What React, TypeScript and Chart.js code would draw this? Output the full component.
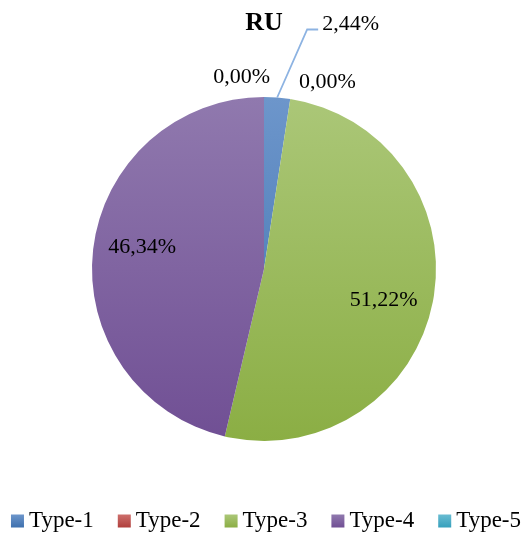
import React, { useEffect, useRef } from "react";
import { Chart, registerables } from "chart.js";

Chart.register(...registerables);

const TITLE = "RU";
const CATEGORIES = ["Type-1", "Type-2", "Type-3", "Type-4", "Type-5"];
const VALUES = [2.44, 0.0, 51.22, 46.34, 0.0];
const LABELS = ["2,44%", "0,00%", "51,22%", "46,34%", "0,00%"];
const TOP_COLORS = ["#6D96CB", "#CD6F6C", "#ABC778", "#9079AE", "#69BCD2"];
const BOTTOM_COLORS = ["#3E70AE", "#B03F3C", "#8BAE44", "#704F94", "#36A0BC"];

const FONT = "'Liberation Serif', 'Times New Roman', serif";
const LABEL_FONT = `22px ${FONT}`;
const LEGEND_FONT = `23px ${FONT}`;

const labelPlugin = {
  id: "sliceLabels",
  afterDatasetsDraw(chart: any) {
    const ctx = chart.ctx;
    const meta = chart.getDatasetMeta(0);
    ctx.save();
    ctx.font = LABEL_FONT;
    ctx.fillStyle = "#000";
    ctx.textBaseline = "middle";
    meta.data.forEach((arc: any, i: number) => {
      const { x, y, startAngle, endAngle, outerRadius } = arc.getProps(
        ["x", "y", "startAngle", "endAngle", "outerRadius"],
        true
      );
      const mid = (startAngle + endAngle) / 2;
      const v = VALUES[i];
      if (v > 10) {
        const r = outerRadius * 0.72;
        const a = mid + 0.065;
        ctx.textAlign = "center";
        ctx.fillText(LABELS[i], x + Math.cos(a) * r, y + Math.sin(a) * r);
      } else if (v > 0) {
        // leader line label
        const ex = x + Math.cos(mid) * outerRadius;
        const ey = y + Math.sin(mid) * outerRadius;
        const bx = ex + 30;
        const by = ey - 68;
        ctx.strokeStyle = "#8DB3E2";
        ctx.lineWidth = 1.8;
        ctx.beginPath();
        ctx.moveTo(ex, ey);
        ctx.lineTo(bx, by);
        ctx.lineTo(bx + 11, by);
        ctx.stroke();
        ctx.textAlign = "left";
        ctx.fillText(LABELS[i], bx + 15, by - 5);
      } else {
        const r = outerRadius * 1.1;
        const ax = x + Math.cos(mid) * r;
        const ay = y + Math.sin(mid) * r;
        const last = i === VALUES.length - 1;
        ctx.textAlign = last ? "right" : "left";
        ctx.fillText(LABELS[i], ax + 6, ay - (last ? 3 : 0));
      }
    });
    ctx.restore();
  },
  afterDraw(chart: any) {
    // legend row at the bottom
    const ctx = chart.ctx;
    ctx.save();
    ctx.font = LEGEND_FONT;
    ctx.textBaseline = "middle";
    ctx.textAlign = "left";
    const box = 13;
    const gap = 5;
    const spacing = 24;
    const widths = CATEGORIES.map((c) => ctx.measureText(c).width);
    const total =
      widths.reduce((a, w) => a + box + gap + w, 0) + spacing * (CATEGORIES.length - 1);
    const meta = chart.getDatasetMeta(0);
    const cx = meta.data[0] ? meta.data[0].x : chart.width / 2;
    let xPos = cx - total / 2 + 2;
    const cy = 521;
    CATEGORIES.forEach((c, i) => {
      const g = ctx.createLinearGradient(0, cy - box / 2, 0, cy + box / 2);
      g.addColorStop(0, TOP_COLORS[i]);
      g.addColorStop(1, BOTTOM_COLORS[i]);
      ctx.fillStyle = g;
      ctx.fillRect(xPos, cy - box / 2, box, box);
      ctx.fillStyle = "#000";
      ctx.fillText(c, xPos + box + gap, cy);
      xPos += box + gap + widths[i] + spacing;
    });
    ctx.restore();
  },
};

export default function App() {
  const ref = useRef<HTMLCanvasElement | null>(null);
  useEffect(() => {
    document.body.style.margin = "0";
    const canvas = ref.current;
    if (!canvas) return;
    const chart = new Chart(canvas, {
      type: "pie",
      data: {
        labels: CATEGORIES,
        datasets: [
          {
            data: VALUES,
            borderWidth: 0,
            backgroundColor: (c: any) => {
              const area = c.chart.chartArea;
              const i = c.dataIndex;
              if (!area) return TOP_COLORS[i];
              const g = c.chart.ctx.createLinearGradient(0, area.top, 0, area.bottom);
              g.addColorStop(0, TOP_COLORS[i]);
              g.addColorStop(1, BOTTOM_COLORS[i]);
              return g;
            },
          },
        ],
      },
      options: {
        responsive: false,
        animation: false,
        layout: { padding: { left: 4, bottom: 92 } },
        plugins: {
          legend: { display: false },
          tooltip: { enabled: false },
          title: {
            display: true,
            text: TITLE,
            color: "#000",
            font: { family: FONT, size: 26, weight: "bold" },
            lineHeight: 1.2,
            padding: { top: 8, bottom: 57.8 },
          },
        },
      },
      plugins: [labelPlugin],
    });
    return () => chart.destroy();
  }, []);
  return (
    <div style={{ width: 524, height: 533 }}>
      <canvas ref={ref} width={524} height={533} style={{ display: "block" }} />
    </div>
  );
}
